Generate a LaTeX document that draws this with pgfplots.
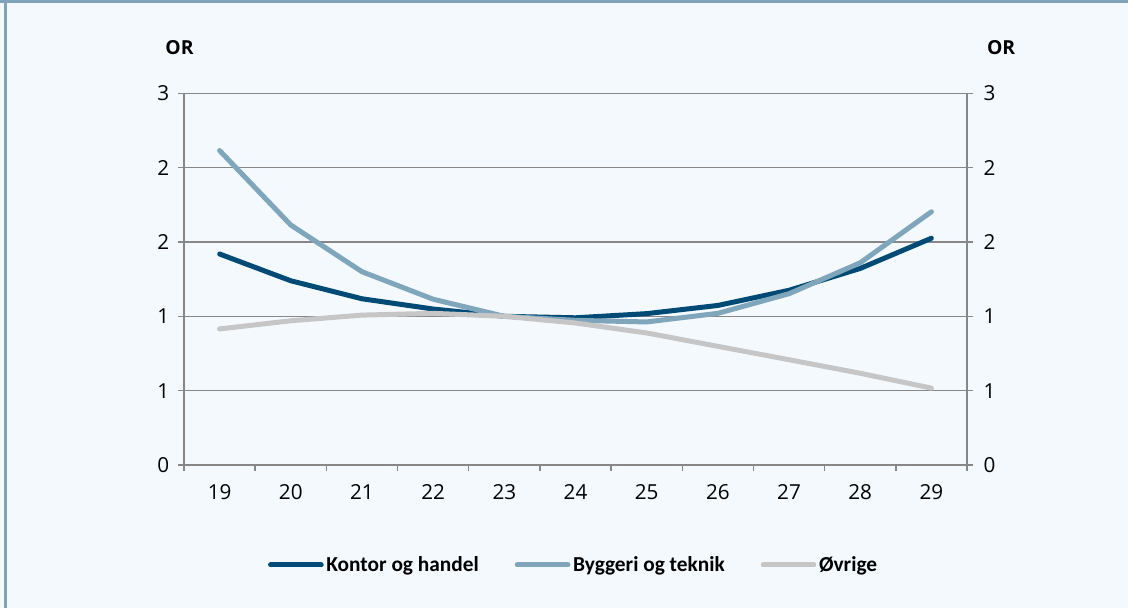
\documentclass[border=0pt]{standalone}
\usepackage{pgfplots}
\pgfplotsset{compat=1.18}
\usepackage{fontspec}
\setmainfont{Open Sans}
\newfontfamily\legfont{Carlito}

\definecolor{bgcol}{HTML}{F4F9FD}
\definecolor{framecol}{HTML}{7FA3B8}
\definecolor{gridcol}{HTML}{878787}
\definecolor{kontor}{HTML}{004B75}
\definecolor{byggeri}{HTML}{80A6BC}
\definecolor{ovrige}{HTML}{C6C6C6}

\pgfplotsset{
  orframe/.style={
    at={(138pt,107.25pt)}, anchor=south west,
    scale only axis, width=587.25pt, height=278.8pt,
    xmin=18.5, xmax=29.5, ymin=0, ymax=2.5,
    ytick={0,0.5,...,2.5},
    yticklabels={0,1,1,2,2,3},
    tick align=outside,
    major tick length=4.5pt, minor tick length=4.5pt,
    every tick/.style={gridcol, line width=1.1pt},
    axis line style={gridcol, line width=1.4pt},
    tick label style={font=\fontsize{15.5}{18}\selectfont, text=black},
    /pgf/number format/assume math mode=true,
  }
}

\begin{document}
\begin{tikzpicture}
\useasboundingbox (0pt,0pt) rectangle (846pt,456pt);
\fill[bgcol] (0pt,0pt) rectangle (846pt,456pt);
\fill[framecol] (0pt,453.75pt) rectangle (846pt,456pt);
\fill[framecol] (3pt,0pt) rectangle (5.5pt,456pt);

\begin{axis}[
  orframe,
  axis x line*=bottom, axis y line*=left,
  xtick={19,...,29},
  minor xtick={18.5,19.5,...,29.5},
  major x tick style={draw=none},
  xticklabel style={yshift=-6.5pt},
  yticklabel style={xshift=-3pt},
  ymajorgrids,
  grid style={gridcol, line width=1.1pt},
  legend style={at={(0.498,-0.269)}, anchor=center, draw=none, fill=none,
    inner sep=0pt, legend columns=-1,
    font=\legfont\bfseries\fontsize{16}{19}\selectfont,
    nodes={inner xsep=2pt},
    /tikz/every even column/.append style={column sep=25pt}},
  legend image code/.code={\draw[#1] (0pt,0pt) -- (38pt,0pt);},
  every axis plot/.append style={line width=3.75pt, line cap=round, line join=round, mark=none},
]
\addplot[kontor] coordinates {
  (19,1.419) (20,1.239) (21,1.118) (22,1.049) (23,1.000) (24,0.990)
  (25,1.018) (26,1.073) (27,1.175) (28,1.322) (29,1.525)};
\addlegendentry{Kontor og handel}
\addplot[byggeri] coordinates {
  (19,2.115) (20,1.614) (21,1.300) (22,1.115) (23,1.000) (24,0.973)
  (25,0.962) (26,1.020) (27,1.152) (28,1.360) (29,1.703)};
\addlegendentry{Byggeri og teknik}
\addplot[ovrige] coordinates {
  (19,0.915) (20,0.970) (21,1.008) (22,1.020) (23,1.000) (24,0.955)
  (25,0.888) (26,0.798) (27,0.708) (28,0.617) (29,0.517)};
\addlegendentry{Øvrige}
\end{axis}

\begin{axis}[
  orframe,
  axis x line=none, axis y line*=right,
  yticklabel style={xshift=4.5pt},
]
\end{axis}

\node[font=\bfseries\fontsize{14.5}{16}\selectfont] at (134.6pt,420.4pt) {OR};
\node[font=\bfseries\fontsize{14.5}{16}\selectfont] at (750.8pt,420.4pt) {OR};
\end{tikzpicture}
\end{document}
